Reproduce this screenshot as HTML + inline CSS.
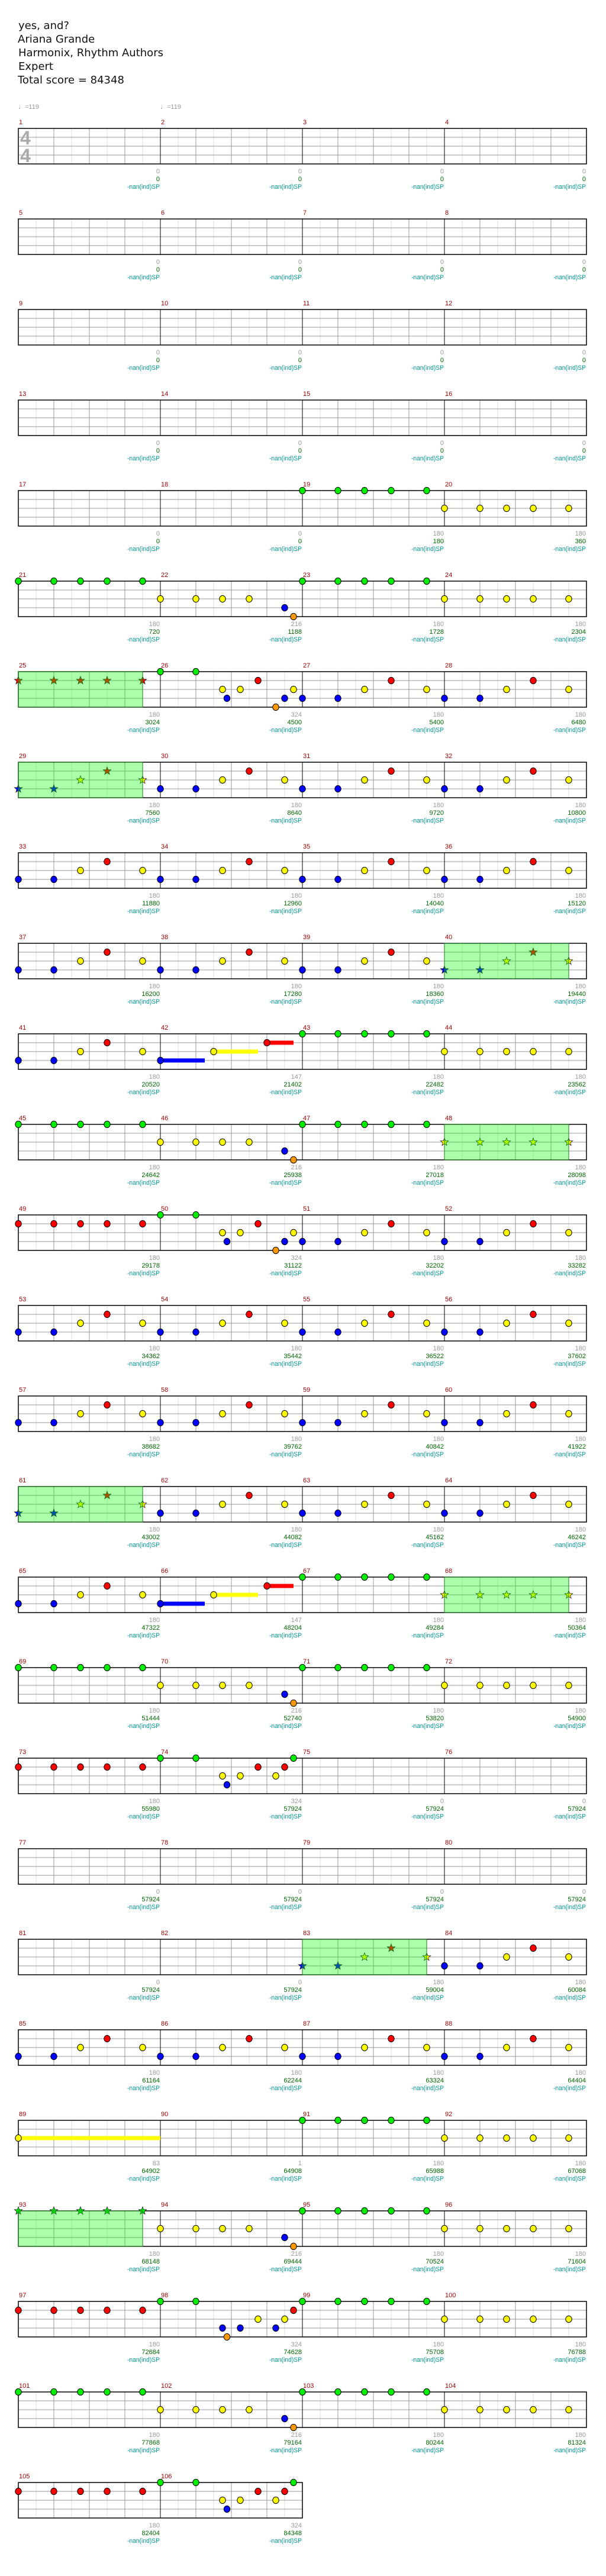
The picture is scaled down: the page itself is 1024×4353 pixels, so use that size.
<!DOCTYPE html>
<html><head><meta charset="utf-8">
<style>
html,body{margin:0;padding:0;background:#fff;}
body{width:1024px;height:4348px;overflow:hidden;}
.t{font-family:"DejaVu Sans","Liberation Sans",sans-serif;font-size:18px;fill:#111;}
</style></head>
<body>
<svg id="s" xmlns="http://www.w3.org/2000/svg" width="1024" height="4348" viewBox="0 0 1024 4348">
<rect width="1024" height="4348" fill="#fff"/>
<text class="t" x="31" y="49">yes, and?</text>
<text class="t" x="30" y="72">Ariana Grande</text>
<text class="t" x="31" y="95">Harmonix, Rhythm Authors</text>
<text class="t" x="31" y="118">Expert</text>
<text class="t" x="30" y="141">Total score = 84348</text>
</svg>
<script>
(function(){
var svg=document.getElementById('s');var NS='http://www.w3.org/2000/svg';
function el(n,a,txt){var e=document.createElementNS(NS,n);for(var k in a)e.setAttribute(k,a[k]);if(txt!==undefined)e.textContent=txt;svg.appendChild(e);return e;}
var COL=['#00ee00','#ff0000','#ffff00','#0000ff','#ff9900'];
var X0=31,MW=240,S=15;
function A(l){return [[0,l],[4,l],[7,l],[10,l],[14,l]];}
var P={
 GA:A(0),YA:A(2),RA:A(1),
 B:[[0,3],[4,3],[7,2],[10,1],[14,2]],
 C:[[0,2],[4,2],[7,2],[10,2],[14,3],[15,4]],
 D:[[0,0],[4,0],[7,2],[9,2],[15,2],[11,1],[7.5,3],[14,3],[13,4]],
 E:[[0,3,5],[6,2,11],[12,1,15]],
 F:[[0,0],[4,0],[15,0],[7,2],[9,2],[13,2],[7.5,3],[11,1],[14,1]],
 G:[[0,0],[4,0],[7,3],[9,3],[13,3],[7.5,4],[11,2],[14,2],[15,1]],
 H:[[0,2,16]],
 N:[]
};
// [pattern, gray, green, sp]
var M=[];
for(var i=1;i<=18;i++)M.push(['N','0','0']);
var d=[
['GA',180,180],['YA',180,360],
['GA',180,720],['C',216,1188],['GA',180,1728],['YA',180,2304],
['RA',180,3024,1],['D',324,4500],['B',180,5400],['B',180,6480],
['B',180,7560,1],['B',180,8640],['B',180,9720],['B',180,10800],
['B',180,11880],['B',180,12960],['B',180,14040],['B',180,15120],
['B',180,16200],['B',180,17280],['B',180,18360],['B',180,19440,1],
['B',180,20520],['E',147,21402],['GA',180,22482],['YA',180,23562],
['GA',180,24642],['C',216,25938],['GA',180,27018],['YA',180,28098,1],
['RA',180,29178],['D',324,31122],['B',180,32202],['B',180,33282],
['B',180,34362],['B',180,35442],['B',180,36522],['B',180,37602],
['B',180,38682],['B',180,39762],['B',180,40842],['B',180,41922],
['B',180,43002,1],['B',180,44082],['B',180,45162],['B',180,46242],
['B',180,47322],['E',147,48204],['GA',180,49284],['YA',180,50364,1],
['GA',180,51444],['C',216,52740],['GA',180,53820],['YA',180,54900],
['RA',180,55980],['F',324,57924],['N',0,57924],['N',0,57924],
['N',0,57924],['N',0,57924],['N',0,57924],['N',0,57924],
['N',0,57924],['N',0,57924],['B',180,59004,1],['B',180,60084],
['B',180,61164],['B',180,62244],['B',180,63324],['B',180,64404],
['H',83,64902],['N',1,64908],['GA',180,65988],['YA',180,67068],
['GA',180,68148,1],['C',216,69444],['GA',180,70524],['YA',180,71604],
['RA',180,72684],['G',324,74628],['GA',180,75708],['YA',180,76788],
['GA',180,77868],['C',216,79164],['GA',180,80244],['YA',180,81324],
['RA',180,82404],['F',324,84348]];
d.forEach(function(x){M.push(x);});
var nRows=Math.ceil(M.length/4);
// tempo
el('text',{x:31,y:184,'font-family':'Liberation Sans,sans-serif','font-size':11,fill:'#999'},'\u2669=119');
el('text',{x:271,y:184,'font-family':'Liberation Sans,sans-serif','font-size':11,fill:'#999'},'\u2669=119');
function star(cx,cy,r,fill){var p=[];for(var i=0;i<10;i++){var rr=i%2?r*0.42:r;var a=-Math.PI/2+i*Math.PI/5;p.push((cx+rr*Math.cos(a)).toFixed(1)+','+(cy+rr*Math.sin(a)).toFixed(1));}
 el('polygon',{points:p.join(' '),fill:fill,stroke:'#222','stroke-width':0.8});}
for(var r=0;r<nRows;r++){
 var T=217+153*r;var cnt=Math.min(4,M.length-r*4);var W=cnt*MW;
 // grid
 for(var x=30;x<W;x+=30){var c=(x%240==0)?'#000':(x%60==0?'#999':'#ddd');
  if(c=='#ddd')el('line',{x1:X0+x,y1:T,x2:X0+x,y2:T+60,stroke:c,'stroke-width':1});}
 for(var j=1;j<4;j++)el('line',{x1:X0,y1:T+15*j,x2:X0+W,y2:T+15*j,stroke:'#999','stroke-width':1});
 for(var x=60;x<W;x+=60){var c=(x%240==0)?'#000':'#999';el('line',{x1:X0+x,y1:T,x2:X0+x,y2:T+60,stroke:c,'stroke-width':1});}
 el('rect',{x:X0,y:T,width:W,height:60,fill:'none',stroke:'#000','stroke-width':1.5});
 if(r==0){el('text',{x:34,y:244,'font-family':'Liberation Sans,sans-serif','font-size':32,'font-weight':'bold',fill:'#aaa'},'4');
          el('text',{x:34,y:274,'font-family':'Liberation Sans,sans-serif','font-size':32,'font-weight':'bold',fill:'#aaa'},'4');}
 for(var c2=0;c2<cnt;c2++){
  var mi=r*4+c2;var m=M[mi];var ms=X0+c2*MW;var me=ms+MW;
  el('text',{x:ms+1,y:T-7,'font-family':'Liberation Sans,sans-serif','font-size':11,fill:'#990000'},String(mi+1));
  el('text',{x:me-1,y:T+76,'text-anchor':'end','font-family':'Liberation Sans,sans-serif','font-size':11,fill:'#999'},String(m[1]));
  el('text',{x:me-1,y:T+89,'text-anchor':'end','font-family':'Liberation Sans,sans-serif','font-size':11,fill:'#006600'},String(m[2]));
  el('text',{x:me-1,y:T+102,'text-anchor':'end','font-family':'Liberation Sans,sans-serif','font-size':11,fill:'#009999',textLength:55,lengthAdjust:'spacingAndGlyphs'},'-nan(ind)SP');
  var notes=P[m[0]];var sp=m[3];
  if(sp){
   notes.forEach(function(n){star(ms+n[0]*S,T+n[1]*15,7,COL[n[1]]);});
   el('rect',{x:ms,y:T,width:210,height:60,fill:'#00ff00','fill-opacity':0.33,stroke:'#227722','stroke-width':1});
  } else {
   notes.forEach(function(n){if(n.length>2){el('rect',{x:ms+n[0]*S,y:T+n[1]*15-3.5,width:(n[2]-n[0])*S,height:7,fill:COL[n[1]]});}});
   notes.forEach(function(n){el('ellipse',{cx:ms+n[0]*S,cy:T+n[1]*15,rx:5.2,ry:5.6,fill:COL[n[1]],stroke:'#000','stroke-width':1});});
  }
 }
}
})();
</script>
</body></html>
